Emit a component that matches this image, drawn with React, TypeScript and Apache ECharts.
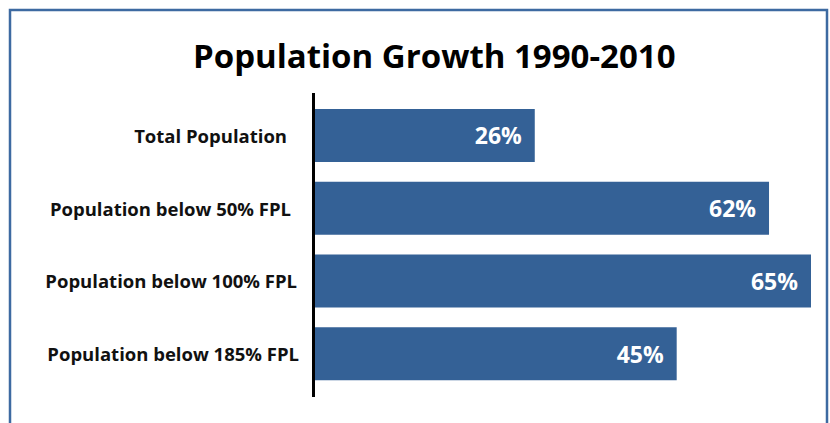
import React, { useEffect, useRef } from "react";
import * as echarts from "echarts";

const categories = [
  "Total Population",
  "Population below 50% FPL",
  "Population below 100% FPL",
  "Population below 185% FPL",
];
// bar lengths as drawn in the picture (65% bar as reference)
const barLengths = [28.8, 59.5, 65, 47.4];
const valueLabels = ["26%", "62%", "65%", "45%"];
const titleText = "Population Growth 1990-2010";

const FONT = "'Open Sans', sans-serif";
const labelPads = [12, 8, 2, 0];

export default function App() {
  const ref = useRef<HTMLDivElement>(null);
  useEffect(() => {
    document.body.style.margin = "0";
    const chart = echarts.init(ref.current!, undefined, { renderer: "svg" });
    const labelStyle = {
      fontFamily: FONT,
      fontWeight: "bold",
      fontSize: 18.5,
      color: "#111111",
    };
    chart.setOption({
      animation: false,
      backgroundColor: "#ffffff",
      title: {
        text: titleText,
        left: 188,
        top: 34,
        textStyle: {
          fontFamily: FONT,
          fontWeight: "bold",
          fontSize: 33,
          color: "#000000",
        },
      },
      grid: { left: 315, top: 99, width: 496, height: 291 },
      xAxis: {
        type: "value",
        min: 0,
        max: 65,
        show: false,
      },
      yAxis: {
        type: "category",
        data: categories,
        inverse: true,
        axisLine: { show: false },
        axisTick: { show: false },
        axisLabel: {
          margin: 16,
          ...labelStyle,
          formatter: (v: string, i: number) => `{p${i}|${v}}`,
          rich: {
            p0: { ...labelStyle, padding: [0, labelPads[0], 0, 0] },
            p1: { ...labelStyle, padding: [0, labelPads[1], 0, 0] },
            p2: { ...labelStyle, padding: [0, labelPads[2], 0, 0] },
            p3: { ...labelStyle, padding: [0, labelPads[3], 0, 0] },
          },
        },
      },
      series: [
        {
          type: "bar",
          data: barLengths,
          barWidth: 53,
          itemStyle: { color: "#346196" },
          label: {
            show: true,
            position: "insideRight",
            distance: 13,
            formatter: (p: any) => valueLabels[p.dataIndex],
            fontFamily: FONT,
            fontWeight: "bold",
            fontSize: 23,
            color: "#ffffff",
          },
        },
      ],
      graphic: [
        {
          type: "rect",
          shape: { x: 10, y: 10, width: 817, height: 440 },
          style: { fill: "none", stroke: "#3d6aa1", lineWidth: 2.5 },
          silent: true,
        },
        {
          type: "line",
          shape: { x1: 313.5, y1: 93, x2: 313.5, y2: 397 },
          style: { stroke: "#000000", lineWidth: 3 },
          silent: true,
        },
      ],
    });
    return () => chart.dispose();
  }, []);
  return (
    <div
      ref={ref}
      style={{ position: "absolute", left: 0, top: 0, width: 830, height: 423 }}
    />
  );
}
